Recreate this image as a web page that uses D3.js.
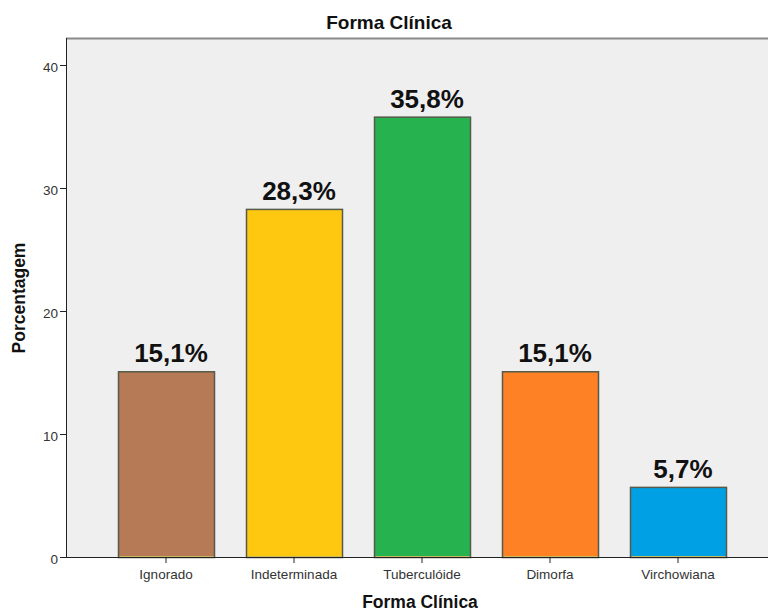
<!DOCTYPE html>
<html><head><meta charset="utf-8">
<script src="https://cdn.jsdelivr.net/npm/d3@7"></script>
<style>body{margin:0;background:#fff;} svg{display:block;font-family:"Liberation Sans",Arial,sans-serif;}</style>
</head><body><svg id="c" width="768" height="613"></svg>
<script>
const categories = ["Ignorado","Indeterminada","Tuberculóide","Dimorfa","Virchowiana"];
const values = [15.1, 28.3, 35.8, 15.1, 5.7];
const labels = ["15,1%","28,3%","35,8%","15,1%","5,7%"];
const colors = ["#B77A57","#FEC811","#25B24F","#FE8126","#00A1E4"];
const yTicks = [0,10,20,30,40];

const svg = d3.select("#c");
const x = d3.scaleBand().domain(categories).range([102,742]).paddingInner(0.25).paddingOuter(0.125);
const y = d3.scaleLinear().domain([0,40]).range([557,65]);

svg.append("rect").attr("x",66).attr("y",38).attr("width",710).attr("height",519).attr("fill","#EFEFEF");
svg.append("line").attr("x1",66).attr("x2",768).attr("y1",38.5).attr("y2",38.5).attr("stroke","#8a8a8a").attr("stroke-width",2);

svg.selectAll("rect.bar").data(values).enter().append("rect").attr("class","bar")
  .attr("x",(d,i)=>x(categories[i])+0.5).attr("y",d=>y(d)+0.5)
  .attr("width",x.bandwidth()).attr("height",d=>y(0)-y(d))
  .attr("fill",(d,i)=>colors[i]).attr("stroke","#555a4a").attr("stroke-width",1.5);
svg.selectAll("line.base").data(values).enter().append("line").attr("class","base")
  .attr("x1",(d,i)=>x(categories[i])+1.5).attr("x2",(d,i)=>x(categories[i])+x.bandwidth()-0.5)
  .attr("y1",y(0)-0.5).attr("y2",y(0)-0.5).attr("stroke","#c8b860").attr("stroke-width",1);

svg.selectAll("text.val").data(values).enter().append("text").attr("class","val")
  .attr("x",(d,i)=>x(categories[i])+x.bandwidth()/2+5).attr("y",d=>y(d)-9)
  .attr("text-anchor","middle").attr("font-size",26).attr("font-weight","bold").attr("fill","#111")
  .text((d,i)=>labels[i]);

const yAxis = svg.append("g").attr("transform","translate(66,0)")
  .call(d3.axisLeft(y).tickValues(yTicks).tickSize(6).tickSizeOuter(0));
yAxis.select(".domain").attr("stroke","#222").attr("d","M0.5,38V557");
yAxis.selectAll(".tick line").attr("stroke","#222");
yAxis.selectAll(".tick text").attr("font-size",13.5).attr("fill","#333").attr("font-family","Liberation Sans, Arial, sans-serif").attr("x",-8).attr("dy","0.45em");

const xAxis = svg.append("g").attr("transform","translate(0,557)")
  .call(d3.axisBottom(x).tickSize(6).tickSizeOuter(0));
xAxis.select(".domain").attr("stroke","#222").attr("d","M66,0.5H768");
xAxis.selectAll(".tick line").attr("stroke","#222");
xAxis.selectAll(".tick text").attr("font-size",13.5).attr("fill","#333").attr("font-family","Liberation Sans, Arial, sans-serif").attr("y",9).attr("dy","0.95em");

svg.append("text").attr("x",389).attr("y",29).attr("text-anchor","middle").attr("font-size",19).attr("font-weight","bold").attr("fill","#111").text("Forma Clínica");
svg.append("text").attr("x",420).attr("y",608).attr("text-anchor","middle").attr("font-size",17.5).attr("font-weight","bold").attr("fill","#111").text("Forma Clínica");
svg.append("text").attr("transform","translate(25,298) rotate(-90)").attr("text-anchor","middle").attr("font-size",17.5).attr("font-weight","bold").attr("fill","#111").text("Porcentagem");
</script></body></html>
